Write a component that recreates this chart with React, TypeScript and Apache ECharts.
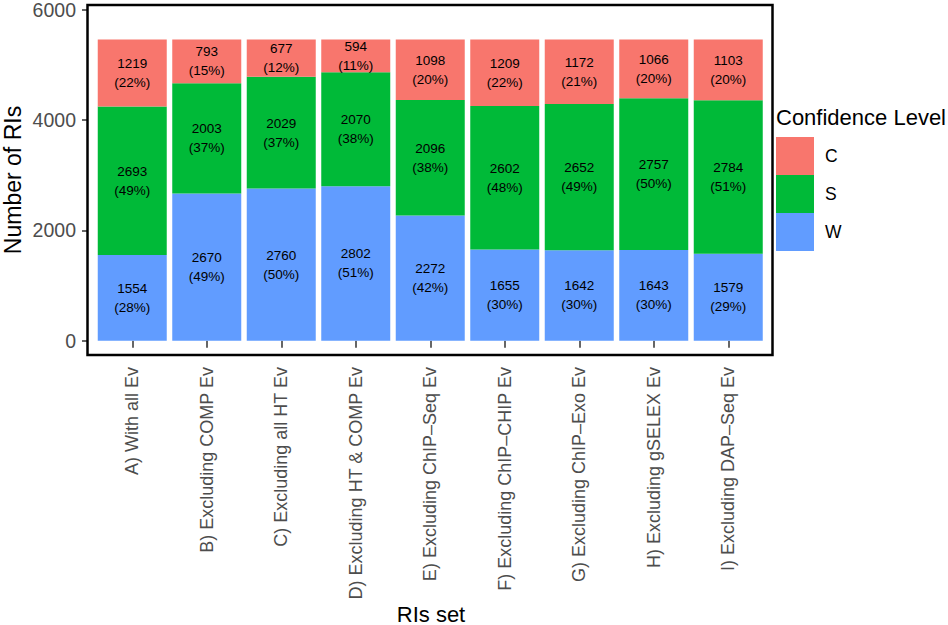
import React, { useEffect, useRef } from "react";
import * as echarts from "echarts";

const categories = [
  "A) With all Ev",
  "B) Excluding COMP Ev",
  "C) Excluding all HT Ev",
  "D) Excluding HT & COMP Ev",
  "E) Excluding ChIP–Seq Ev",
  "F) Excluding ChIP–CHIP Ev",
  "G) Excluding ChIP–Exo Ev",
  "H) Excluding gSELEX Ev",
  "I) Excluding DAP–Seq Ev",
];

const valuesW = [1554, 2670, 2760, 2802, 2272, 1655, 1642, 1643, 1579];
const valuesS = [2693, 2003, 2029, 2070, 2096, 2602, 2652, 2757, 2784];
const valuesC = [1219, 793, 677, 594, 1098, 1209, 1172, 1066, 1103];

const yTicks = [0, 2000, 4000, 6000];

const colorC = "#F8766D";
const colorS = "#00BA38";
const colorW = "#619CFF";

const FONT = "'Liberation Sans', Arial, Helvetica, sans-serif";

const totals = categories.map((_, i) => valuesW[i] + valuesS[i] + valuesC[i]);

function makeSeries(name: string, data: number[], color: string) {
  return {
    name,
    type: "bar",
    stack: "total",
    barWidth: 69,
    data,
    itemStyle: { color },
    label: {
      show: true,
      position: "inside",
      color: "#000",
      fontSize: 13.5,
      lineHeight: 19,
      fontFamily: FONT,
      formatter: (p: any) => {
        const pct = Math.round((p.value / totals[p.dataIndex]) * 100);
        return `${p.value}\n(${pct}%)`;
      },
    },
  };
}

export default function App() {
  const ref = useRef<HTMLDivElement>(null);

  useEffect(() => {
    if (!ref.current) return;
    const chart = echarts.init(ref.current, undefined, { renderer: "svg" });
    chart.setOption({
      animation: false,
      backgroundColor: "#fff",
      textStyle: { fontFamily: FONT },
      grid: { left: 95, width: 670.5, top: 5, height: 350, containLabel: false },
      legend: {
        data: ["C", "S", "W"],
        orient: "vertical",
        left: 776,
        top: 137,
        itemWidth: 38,
        itemHeight: 38,
        itemGap: 0,
        padding: 0,
        icon: "rect",
        textStyle: { fontSize: 17.5, color: "#000", fontFamily: FONT, padding: [0, 0, 0, 6] },
      },
      xAxis: {
        type: "category",
        data: categories,
        axisLine: { show: false },
        axisTick: { show: true, alignWithLabel: true, length: 7, lineStyle: { color: "#333", width: 1.5 } },
        axisLabel: {
          rotate: 90,
          interval: 0,
          margin: 12,
          fontSize: 18,
          color: "#4d4d4d",
          fontFamily: FONT,
        },
      },
      yAxis: {
        type: "value",
        min: -260,
        max: 6040,
        offset: 8,
        axisLine: { show: false },
        splitLine: { show: false },
        axisTick: { show: true, length: 5, customValues: yTicks, lineStyle: { color: "#333", width: 1.5 } },
        axisLabel: {
          customValues: yTicks,
          formatter: (v: number) => String(v),
          margin: 11,
          fontSize: 19.5,
          color: "#4d4d4d",
          fontFamily: FONT,
        },
      },
      series: [
        makeSeries("W", valuesW, colorW),
        makeSeries("S", valuesS, colorS),
        makeSeries("C", valuesC, colorC),
      ],
      graphic: [
        {
          type: "rect",
          shape: { x: 87.5, y: 5, width: 685, height: 350 },
          style: { fill: "none", stroke: "#000", lineWidth: 2.5 },
          z: 100,
          silent: true,
        },
        {
          type: "text",
          x: 13,
          y: 180,
          rotation: Math.PI / 2,
          style: {
            text: "Number of RIs",
            fontSize: 23,
            fill: "#000",
            align: "center",
            verticalAlign: "middle",
            fontFamily: FONT,
          },
        },
        {
          type: "text",
          x: 431,
          y: 614,
          style: {
            text: "RIs set",
            fontSize: 22,
            fill: "#000",
            align: "center",
            verticalAlign: "middle",
            fontFamily: FONT,
          },
        },
        {
          type: "text",
          x: 776,
          y: 117,
          style: {
            text: "Confidence Level",
            fontSize: 22,
            fill: "#000",
            align: "left",
            verticalAlign: "middle",
            fontFamily: FONT,
          },
        },
      ],
    });
    return () => chart.dispose();
  }, []);

  return (
    <div
      ref={ref}
      style={{ position: "fixed", left: 0, top: 0, width: 948, height: 625, background: "#fff" }}
    />
  );
}
